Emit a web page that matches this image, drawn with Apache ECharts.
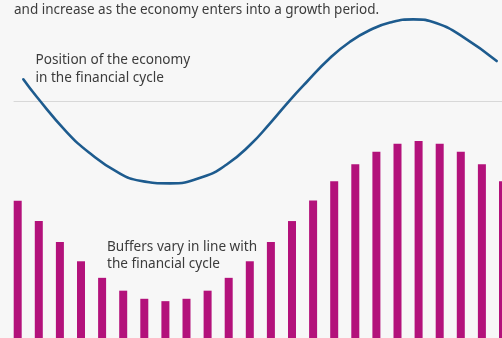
<!DOCTYPE html>
<html><head><meta charset="utf-8">
<script src="https://cdn.jsdelivr.net/npm/echarts@6/dist/echarts.min.js"></script>
<style>html,body{margin:0;padding:0;background:#f7f7f7}#c{width:502px;height:338px}</style>
</head><body><div id="c"></div>
<script>
// Buffer bars (arbitrary 0-100 scale)
var periods = ['1','2','3','4','5','6','7','8','9','10','11','12','13','14','15','16','17','18','19','20','21','22','23','24'];
var buffers = [40.6, 34.6, 28.4, 22.7, 17.8, 14.0, 11.6, 10.9, 11.6, 14.0, 17.8, 22.7, 28.4, 34.6, 40.7, 46.4, 51.4, 55.1, 57.5, 58.3, 57.5, 55.1, 51.4, 46.4];
// Position of the economy in the financial cycle (time 0-100, position -1..1)
var cycleTime = [1.91, 4.65, 10.80, 15.57, 21.04, 25.82, 31.97, 38.79, 43.59, 48.36, 52.46, 56.56, 59.98, 64.75, 68.85, 72.95, 77.05, 81.82, 86.62, 92.07, 98.91];
var cyclePos = [0.265, 0.052, -0.378, -0.638, -0.862, -0.972, -1.004, -0.923, -0.774, -0.537, -0.272, 0.012, 0.232, 0.524, 0.723, 0.866, 0.957, 0.996, 0.948, 0.780, 0.488];

var titleText = 'and increase as the economy enters into a growth period.';
var lineLabel = 'Position of the economy\nin the financial cycle';
var barLabel = 'Buffers vary in line with\nthe financial cycle';

var chart = echarts.init(document.getElementById('c'), null, {renderer: 'canvas'});
var font = '"Noto Sans", sans-serif';
chart.setOption({
  animation: false,
  backgroundColor: '#f7f7f7',
  grid: [
    {left: 7.15, width: 506.4, top: 0, bottom: 0, containLabel: false, outerBoundsMode: 'none'},
    {left: 14, right: 0, top: 0, bottom: 0, containLabel: false, outerBoundsMode: 'none'}
  ],
  xAxis: [
    {gridIndex: 0, type: 'category', data: periods, boundaryGap: true, show: false},
    {gridIndex: 1, type: 'value', min: 0, max: 100, show: true,
      axisLine: {show: true, onZero: true, lineStyle: {color: '#d8d8d8', width: 1}},
      axisTick: {show: false}, axisLabel: {show: false}, splitLine: {show: false}}
  ],
  yAxis: [
    {gridIndex: 0, type: 'value', min: 0, max: 100, show: false},
    {gridIndex: 1, type: 'value', min: -2.89, max: 1.232, show: false, splitLine: {show: false}}
  ],
  series: [
    {type: 'bar', xAxisIndex: 0, yAxisIndex: 0, data: buffers, barWidth: 8,
      itemStyle: {color: '#b3127b'}, z: 2},
    {type: 'line', xAxisIndex: 1, yAxisIndex: 1, smooth: 0.5, showSymbol: false, symbol: 'none',
      data: cycleTime.map(function (t, i) { return [t, cyclePos[i]]; }),
      lineStyle: {color: '#1d5b8e', width: 2.6, cap: 'round'}, z: 5}
  ],
  graphic: [
    {type: 'text', left: 14, top: 3, style: {text: titleText, font: '13.5px ' + font, fill: '#3c3c3c'}},
    {type: 'text', left: 35.5, top: 51.5, style: {text: lineLabel, font: '13.6px ' + font, fill: '#3c3c3c', lineHeight: 17.5}},
    {type: 'text', left: 107, top: 238, style: {text: barLabel, font: '13.6px ' + font, fill: '#3c3c3c', lineHeight: 17.5}}
  ]
});
</script></body></html>
